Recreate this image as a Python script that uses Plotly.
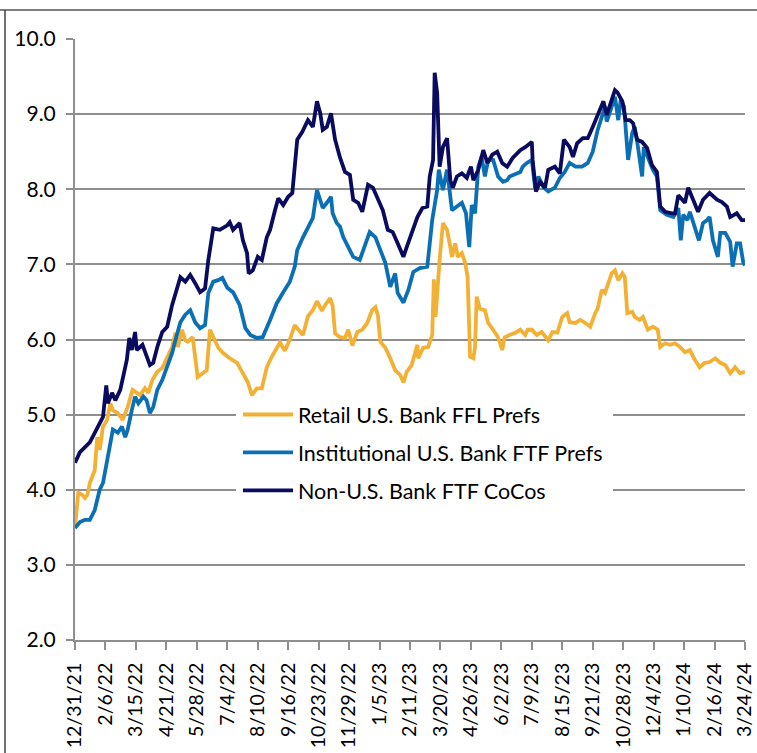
import pandas as pd
import plotly.graph_objects as go

# ---------------- data ----------------
start_date = "2021-12-31"

tick_labels = ["12/31/21", "2/6/22", "3/15/22", "4/21/22", "5/28/22", "7/4/22",
               "8/10/22", "9/16/22", "10/23/22", "11/29/22", "1/5/23", "2/11/23",
               "3/20/23", "4/26/23", "6/2/23", "7/9/23", "8/15/23", "9/21/23",
               "10/28/23", "12/4/23", "1/10/24", "2/16/24", "3/24/24"]

series_names = ["Retail U.S. Bank FFL Prefs",
                "Institutional U.S. Bank FTF Prefs",
                "Non-U.S. Bank FTF CoCos"]

# Retail U.S. Bank FFL Prefs: days since 12/31/21 and yield (%)
retail_days = [0, 4, 9, 12, 15, 18, 24, 27, 30, 34, 39, 43, 46, 52, 58, 64, 70, 75, 79, 85,
               89, 94, 100, 106, 112, 118, 122, 125, 130, 134, 137, 143, 149, 156, 160, 164,
               168, 174, 180, 188, 197, 204, 210, 215, 221, 227, 233, 239, 245, 249, 255,
               261, 267, 273, 277, 283, 289, 294, 300, 304, 310, 313, 316, 322, 328, 332,
               337, 343, 349, 355, 361, 365, 368, 371, 377, 383, 389, 395, 399, 403, 409,
               416, 417, 423, 429, 434, 435, 436, 438, 441, 443, 447, 452, 456, 458, 462,
               465, 470, 474, 477, 480, 484, 486, 488, 492, 498, 502, 508, 514, 519, 522,
               528, 535, 541, 547, 550, 555, 561, 567, 575, 580, 586, 592, 598, 601, 608,
               614, 620, 626, 632, 635, 640, 644, 648, 652, 656, 660, 665, 668, 671, 677,
               680, 686, 690, 696, 702, 708, 711, 717, 723, 729, 735, 741, 747, 753, 759,
               765, 771, 778, 784, 790, 796, 802, 808, 814]
retail = [3.50, 3.96, 3.93, 3.89, 3.93, 4.09, 4.26, 4.70, 4.53, 4.84, 4.93, 5.15, 5.06, 5.02,
          4.93, 5.10, 5.33, 5.29, 5.26, 5.35, 5.29, 5.46, 5.57, 5.62, 5.77, 5.90, 6.09, 5.90,
          6.13, 5.99, 5.97, 6.03, 5.50, 5.55, 5.59, 6.13, 6.03, 5.89, 5.82, 5.75, 5.69, 5.55,
          5.43, 5.26, 5.35, 5.35, 5.63, 5.77, 5.90, 5.96, 5.85, 6.00, 6.19, 6.11, 6.06, 6.31,
          6.39, 6.51, 6.38, 6.46, 6.55, 6.45, 6.08, 6.03, 6.02, 6.13, 5.92, 6.10, 6.13, 6.22,
          6.39, 6.43, 6.32, 5.97, 5.89, 5.75, 5.59, 5.53, 5.43, 5.57, 5.66, 5.93, 5.75, 5.89,
          5.90, 6.06, 6.55, 6.80, 6.30, 6.85, 7.06, 7.55, 7.46, 7.23, 7.10, 7.28, 7.10, 7.15,
          7.02, 6.83, 5.77, 5.75, 5.90, 6.57, 6.41, 6.39, 6.22, 6.13, 6.03, 5.86, 6.03, 6.06,
          6.09, 6.13, 6.06, 6.13, 6.13, 6.06, 6.10, 5.99, 6.10, 6.09, 6.30, 6.35, 6.23, 6.22,
          6.26, 6.22, 6.17, 6.35, 6.41, 6.66, 6.62, 6.75, 6.88, 6.92, 6.79, 6.88, 6.83, 6.35,
          6.37, 6.30, 6.26, 6.30, 6.13, 6.17, 6.13, 5.90, 5.95, 5.93, 5.95, 5.90, 5.83, 5.86,
          5.73, 5.63, 5.69, 5.70, 5.75, 5.69, 5.66, 5.55, 5.63, 5.55, 5.57]

# Institutional U.S. Bank FTF Prefs
inst_days = [0, 6, 12, 18, 24, 30, 34, 39, 43, 46, 52, 57, 61, 64, 69, 73, 77, 83, 87, 91,
             95, 100, 106, 112, 118, 122, 128, 134, 140, 146, 152, 158, 162, 168, 174, 179,
             185, 192, 200, 207, 213, 221, 228, 237, 245, 253, 261, 267, 270, 277, 283, 286,
             289, 294, 298, 301, 306, 311, 313, 318, 322, 326, 332, 338, 346, 352, 358, 365,
             371, 377, 383, 389, 392, 399, 405, 411, 419, 428, 434, 440, 442, 447, 452, 458,
             464, 470, 475, 479, 482, 486, 490, 494, 498, 502, 508, 514, 520, 525, 528, 532,
             537, 541, 544, 549, 555, 559, 563, 569, 575, 583, 589, 595, 601, 608, 616, 623,
             629, 635, 640, 644, 646, 652, 656, 660, 663, 667, 672, 677, 680, 684, 689, 691,
             696, 702, 707, 711, 719, 727, 733, 736, 739, 744, 747, 753, 758, 763, 768, 771,
             775, 781, 784, 790, 796, 799, 804, 808, 812, 814]
institutional = [3.49, 3.57, 3.60, 3.60, 3.73, 4.00, 4.09, 4.36, 4.62, 4.80, 4.76, 4.84, 4.70,
                 4.80, 5.06, 5.24, 5.15, 5.24, 5.19, 5.02, 5.10, 5.33, 5.46, 5.63, 5.82, 5.99,
                 6.23, 6.33, 6.39, 6.23, 6.15, 6.19, 6.62, 6.77, 6.79, 6.82, 6.69, 6.63, 6.46,
                 6.15, 6.06, 6.02, 6.03, 6.26, 6.48, 6.63, 6.77, 6.97, 7.19, 7.36, 7.50, 7.55,
                 7.62, 7.99, 7.86, 7.75, 7.82, 7.90, 7.68, 7.55, 7.50, 7.36, 7.23, 7.10, 7.06,
                 7.23, 7.43, 7.36, 7.19, 7.02, 6.70, 6.88, 6.62, 6.49, 6.66, 6.90, 6.95, 6.97,
                 7.59, 7.99, 8.26, 7.99, 8.26, 7.72, 7.77, 7.82, 7.68, 7.23, 7.79, 7.68, 8.30,
                 8.43, 8.17, 8.39, 8.39, 8.17, 8.10, 8.12, 8.17, 8.19, 8.21, 8.23, 8.30, 8.35,
                 8.39, 8.02, 8.17, 8.03, 7.97, 8.02, 8.15, 8.23, 8.35, 8.30, 8.30, 8.35, 8.50,
                 8.79, 8.96, 9.10, 8.90, 9.10, 9.23, 8.92, 9.19, 9.10, 8.39, 8.75, 8.83, 8.56,
                 8.17, 8.56, 8.43, 8.26, 8.17, 7.72, 7.66, 7.63, 7.75, 7.32, 7.66, 7.59, 7.70,
                 7.48, 7.32, 7.55, 7.59, 7.63, 7.32, 7.10, 7.42, 7.42, 7.30, 6.97, 7.28, 7.28,
                 7.02, 6.99]

# Non-U.S. Bank FTF CoCos
non_us_days = [0, 6, 18, 30, 34, 38, 40, 45, 49, 55, 58, 63, 66, 69, 73, 75, 82, 88, 91, 95,
               100, 106, 112, 118, 124, 128, 134, 140, 146, 152, 158, 162, 168, 176, 185, 188,
               192, 200, 204, 209, 211, 216, 222, 227, 233, 237, 243, 247, 253, 259, 264, 270,
               276, 283, 289, 294, 298, 301, 306, 311, 316, 322, 328, 334, 338, 344, 349, 352,
               356, 362, 368, 374, 380, 386, 392, 399, 403, 409, 416, 422, 428, 431, 435, 437,
               440, 443, 447, 452, 456, 459, 464, 470, 476, 481, 484, 490, 496, 501, 507, 513,
               519, 525, 532, 541, 547, 555, 556, 560, 565, 571, 575, 583, 589, 594, 598, 601,
               605, 610, 617, 623, 629, 635, 642, 646, 652, 656, 659, 665, 669, 674, 678, 683,
               689, 695, 701, 707, 711, 717, 725, 729, 733, 738, 741, 745, 751, 757, 763, 771,
               780, 786, 792, 796, 804, 810, 814]
non_us = [4.36, 4.50, 4.63, 4.89, 4.97, 5.39, 5.15, 5.29, 5.19, 5.33, 5.50, 5.73, 6.02, 5.86,
          6.10, 5.86, 5.93, 5.77, 5.66, 5.69, 5.90, 6.10, 6.17, 6.46, 6.70, 6.83, 6.77, 6.86,
          6.75, 6.63, 6.68, 7.06, 7.48, 7.46, 7.52, 7.56, 7.46, 7.55, 7.32, 7.15, 6.88, 6.92,
          7.10, 7.06, 7.36, 7.46, 7.72, 7.88, 7.79, 7.90, 7.95, 8.66, 8.76, 8.92, 8.83, 9.17,
          9.01, 8.79, 8.83, 9.01, 8.66, 8.42, 8.23, 8.19, 7.86, 7.82, 7.70, 7.88, 8.06, 8.02,
          7.86, 7.72, 7.46, 7.43, 7.28, 7.10, 7.23, 7.42, 7.63, 7.75, 7.77, 8.17, 8.39, 9.55,
          9.28, 8.30, 8.56, 8.68, 8.12, 8.02, 8.17, 8.21, 8.15, 8.30, 8.12, 8.26, 8.52, 8.35,
          8.46, 8.50, 8.35, 8.30, 8.42, 8.52, 8.56, 8.63, 8.39, 7.97, 8.10, 8.02, 8.26, 8.30,
          8.21, 8.66, 8.61, 8.56, 8.43, 8.61, 8.68, 8.68, 8.83, 8.99, 9.17, 8.99, 9.17, 9.32,
          9.29, 9.17, 8.92, 8.92, 8.88, 8.66, 8.63, 8.55, 8.32, 8.23, 7.77, 7.70, 7.68, 7.68,
          7.92, 7.86, 7.82, 8.02, 7.86, 7.70, 7.86, 7.95, 7.86, 7.83, 7.77, 7.63, 7.68, 7.59,
          7.59]

colors = ["#F2B135", "#0B6FB5", "#0A0A5E"]

# ---------------- build ----------------
t0 = pd.Timestamp(start_date)

def to_dates(days):
    return [t0 + pd.Timedelta(days=d) for d in days]

series = [(retail_days, retail), (inst_days, institutional), (non_us_days, non_us)]
for d, v in series:
    assert len(d) == len(v), (len(d), len(v))

tick_vals = [pd.to_datetime(t, format="%m/%d/%y") for t in tick_labels]

W, H = 757, 753
L, R, T, B = 75, 12, 39, 113
PW, PH = W - L - R, H - T - B

def px_x(px):
    return (px - L) / PW

def px_y(py):
    return 1 - (py - T) / PH

FONT = "Lato, Roboto, sans-serif"
GRID = "#8E8E8E"

fig = go.Figure()
for name, (d, v), col in zip(series_names, series, colors):
    fig.add_trace(go.Scatter(x=to_dates(d), y=v, mode="lines", name=name,
                             legendgroup=name,
                             line=dict(color=col, width=3.8)))

fig.update_layout(
    width=W, height=H,
    margin=dict(l=L, r=R, t=T, b=B, autoexpand=False),
    paper_bgcolor="white", plot_bgcolor="white",
    font=dict(family=FONT, size=21, color="#000000"),
    showlegend=True,
    legend=dict(x=px_x(238), y=px_y(394), xanchor="left", yanchor="top",
                bgcolor="rgba(255,255,255,0)", borderwidth=0,
                font=dict(family=FONT, size=21.5, color="#000000"),
                traceorder="grouped", tracegroupgap=7,
                itemwidth=50),
    xaxis=dict(type="date", automargin=False,
               range=[tick_vals[0], tick_vals[-1]],
               tickmode="array", tickvals=tick_vals, ticktext=tick_labels,
               tickangle=-90,
               ticks="outside", ticklen=8, tickwidth=2, tickcolor=GRID,
               showgrid=False, showline=True, linecolor=GRID, linewidth=2,
               zeroline=False,
               tickfont=dict(family=FONT, size=19.5, color="#000000"),
               ticklabelstandoff=5),
    yaxis=dict(range=[2, 10], dtick=1, tick0=2, tickformat=".1f", automargin=False,
               ticks="outside", ticklen=7, tickwidth=2, tickcolor=GRID,
               showgrid=True, gridcolor=GRID, gridwidth=2,
               showline=True, linecolor=GRID, linewidth=2,
               zeroline=False,
               tickfont=dict(family=FONT, size=21, color="#000000"),
               ticklabelstandoff=6),
)

# white box behind the legend (hides gridlines like the original legend box)
fig.add_shape(type="rect", xref="paper", yref="paper", layer="above",
              x0=px_x(236), x1=px_x(613), y0=px_y(510), y1=px_y(397),
              fillcolor="white", line=dict(width=0))

# frame lines of the cropped chart box
fig.add_shape(type="line", xref="paper", yref="paper",
              x0=px_x(0), x1=px_x(W), y0=px_y(10), y1=px_y(10),
              line=dict(color="#7F7F7F", width=2))
fig.add_shape(type="line", xref="paper", yref="paper",
              x0=px_x(5), x1=px_x(5), y0=px_y(10), y1=px_y(H + 5),
              line=dict(color="#404040", width=1.5))

fig.write_html("out.html",
               config={"displayModeBar": False},
               post_script="document.body.style.margin='0px';"
                           "document.body.style.overflow='hidden';")
